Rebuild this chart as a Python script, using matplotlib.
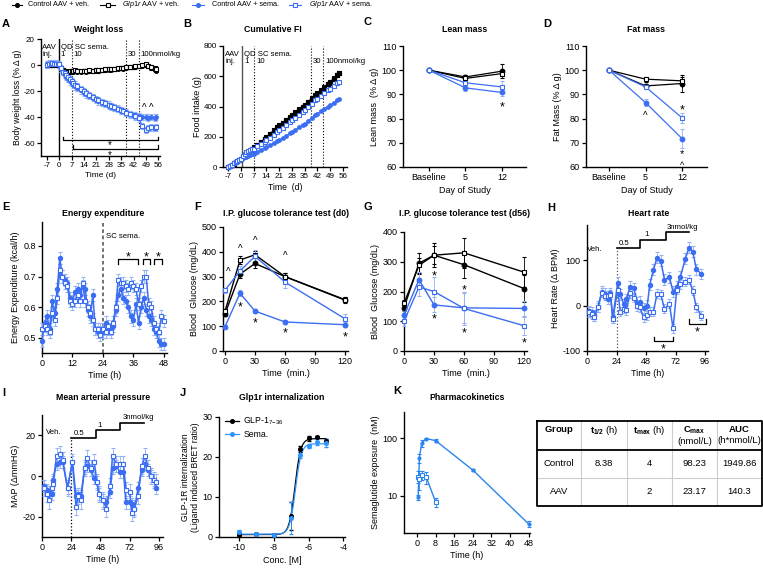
import numpy as np
import matplotlib
matplotlib.use("Agg")
import matplotlib.pyplot as plt
from matplotlib.lines import Line2D
from matplotlib.ticker import NullLocator
from matplotlib.transforms import offset_copy

plt.rcParams['font.family'] = ['Liberation Sans', 'DejaVu Sans']
plt.rcParams['mathtext.fontset'] = 'custom'
plt.rcParams['mathtext.rm'] = 'Liberation Sans'
plt.rcParams['mathtext.it'] = 'Liberation Sans:italic'
plt.rcParams['mathtext.bf'] = 'Liberation Sans:bold'
plt.rcParams['font.size'] = 6.5
plt.rcParams['axes.linewidth'] = 1.0
plt.rcParams['axes.unicode_minus'] = False

W, H = 763, 569
BLUE = '#3b6ef2'
LBLUE = '#93b2f6'
JBLUE = '#2f95ff'
KBLUE = '#2a86ee'

# ---------------- data ----------------
# A: body weight (% change)
days_a = [-7, -6, -5, -4, -3, -2, -1, 0, 1, 2, 3, 4, 5, 6, 7, 8, 9, 10, 12, 14, 15, 17, 19, 21, 22, 24,
          26, 28, 29, 31, 33, 35, 36, 38, 40, 42, 43, 45, 47, 49, 50, 52, 54, 55]
ctrl_veh_a = [0.5, 0.8, 0.3, 0.6, 0.2, 0.4, 0.5, 0.0, -2.5, -4.0, -5.5, -6.5, -6.0, -5.5, -5.0, -5.2, -4.8,
              -5.0, -5.3, -4.8, -5.0, -4.6, -4.9, -4.4, -4.6, -4.0, -3.8, -3.5, -3.7, -3.2, -2.8, -2.6, -2.9,
              -2.2, -1.8, -1.5, -1.2, -1.0, -0.5, 0.0, -1.0, -2.5, -3.5, -4.5]
glp_veh_a = [0.3, 0.6, 0.2, 0.5, 0.4, 0.3, 0.6, 0.2, -2.0, -3.5, -4.5, -5.0, -5.2, -4.8, -4.4, -4.6, -4.2,
             -4.5, -4.7, -4.3, -4.4, -4.0, -4.3, -3.8, -4.0, -3.6, -3.3, -3.0, -3.2, -2.7, -2.4, -2.2, -2.5,
             -1.8, -1.5, -1.2, -0.9, -0.7, -0.3, 0.5, -0.5, -1.5, -2.5, -3.0]
ctrl_sema_a = [0.5, 0.8, 0.6, 1.0, 0.7, 0.9, 0.6, 0.0, -3.0, -5.5, -7.5, -9.0, -10.5, -12.5, -14.0, -15.5,
               -16.5, -17.5, -19.5, -21.5, -22.5, -24.0, -25.5, -27.0, -28.0, -29.0, -30.0, -31.5, -32.0,
               -33.0, -34.0, -35.0, -35.5, -36.5, -37.5, -38.5, -39.0, -39.5, -40.0, -40.0, -40.5, -40.0,
               -40.5, -40.0]
glp_sema_a = [0.3, 1.0, 0.8, 1.2, 0.9, 1.1, 0.8, 0.5, -2.5, -5.0, -6.5, -8.0, -9.5, -11.0, -12.5, -14.0,
              -15.0, -16.5, -18.5, -20.0, -21.5, -23.0, -24.5, -26.0, -27.0, -28.5, -29.5, -30.5, -31.5,
              -32.5, -33.5, -34.5, -35.5, -37.0, -38.0, -38.5, -39.5, -41.0, -47.0, -50.0, -48.5, -48.0,
              -48.5, -48.0]
sem_a = [1.2, 1.2, 2.5, 2.5]

# B: cumulative food intake (g)
days_b = [-7, -6, -5, -4, -3, -2, -1, 0, 1, 2, 3, 4, 5, 6, 7, 9, 11, 13, 14, 16, 18, 20, 21, 23, 25, 27,
          28, 30, 32, 34, 35, 37, 39, 41, 42, 44, 46, 48, 49, 51, 53, 54]
ctrl_veh_b = [0, 8, 16, 24, 32, 40, 48, 56, 67, 78, 88, 98, 108, 118, 130, 148, 167, 186, 198, 220, 242,
              264, 275, 293, 312, 331, 341, 361, 381, 400, 410, 432, 454, 476, 487, 508, 529, 551, 562,
              586, 611, 624]
glp_veh_b = [0, 8, 15, 23, 31, 39, 46, 54, 65, 75, 85, 95, 105, 115, 126, 145, 164, 183, 195, 216, 238,
             260, 271, 289, 308, 327, 337, 357, 377, 396, 406, 428, 450, 472, 483, 504, 525, 547, 558,
             582, 606, 619]
ctrl_sema_b = [0, 8, 16, 24, 32, 40, 46, 52, 58, 63, 69, 74, 79, 84, 88, 101, 113, 126, 132, 144, 157,
               170, 176, 192, 208, 223, 231, 246, 262, 278, 286, 305, 324, 343, 353, 369, 385, 400, 408,
               426, 443, 452]
glp_sema_b = [0, 8, 16, 24, 32, 40, 48, 56, 72, 86, 98, 105, 110, 116, 121, 136, 152, 168, 176, 195, 214,
              233, 242, 261, 280, 299, 308, 327, 346, 365, 374, 396, 418, 441, 452, 471, 490, 509, 518,
              536, 553, 562]

# C / D: lean and fat mass (% of baseline)
study_days = ['Baseline', '5', '12']
ctrl_veh_c = [100, 97.2, 99.6]
glp_veh_c = [100, 96.6, 98.6]
ctrl_sema_c = [100, 92.7, 90.8]
glp_sema_c = [100, 94.8, 93.1]
err_c = [[0, 1.0, 3.0], [0, 1.2, 1.0], [0, 1.5, 1.5], [0, 1.2, 2.5]]
ctrl_veh_d = [100, 93.5, 94.5]
glp_veh_d = [100, 96.3, 95.6]
ctrl_sema_d = [100, 86.6, 71.7]
glp_sema_d = [100, 93.1, 80.3]
err_d = [[0, 1.0, 3.5], [0, 1.0, 1.5], [0, 1.5, 4.0], [0, 1.0, 2.0]]

# E: energy expenditure (kcal/h)
hours_e = list(range(0, 49))
ctrl_sema_e = [0.49, 0.55, 0.57, 0.53, 0.62, 0.58, 0.66, 0.76, 0.70, 0.69, 0.68, 0.63, 0.62, 0.65, 0.66,
               0.64, 0.67, 0.66, 0.59, 0.57, 0.64, 0.53, 0.52, 0.53, 0.52, 0.55, 0.53, 0.53, 0.54, 0.59,
               0.64, 0.66, 0.63, 0.62, 0.60, 0.57, 0.56, 0.61, 0.55, 0.60, 0.63, 0.59, 0.57, 0.56, 0.53,
               0.52, 0.49, 0.48, 0.48]
glp_sema_e = [0.53, 0.54, 0.53, 0.52, 0.58, 0.56, 0.63, 0.72, 0.70, 0.68, 0.67, 0.62, 0.61, 0.62, 0.64,
              0.62, 0.68, 0.62, 0.60, 0.58, 0.56, 0.53, 0.53, 0.51, 0.53, 0.52, 0.54, 0.52, 0.55, 0.60,
              0.69, 0.68, 0.68, 0.67, 0.66, 0.68, 0.67, 0.66, 0.61, 0.67, 0.70, 0.70, 0.61, 0.60, 0.55,
              0.53, 0.52, 0.57, 0.555]
sem_e = [0.02, 0.02]

# F / G: IPGTT (mg/dL)
gtt_min = [0, 15, 30, 60, 120]
ctrl_veh_f = [150, 310, 353, 300, 205]
glp_veh_f = [160, 367, 388, 300, 207]
ctrl_sema_f = [98, 233, 161, 117, 106]
glp_sema_f = [245, 323, 382, 278, 130]
err_f = [[10, 15, 20, 15, 12], [10, 15, 15, 15, 10], [5, 12, 8, 10, 10], [10, 20, 25, 25, 18]]
ctrl_veh_g = [145, 295, 322, 290, 210]
glp_veh_g = [160, 288, 322, 330, 265]
ctrl_sema_g = [120, 240, 155, 145, 143]
glp_sema_g = [100, 215, 200, 143, 85]
err_g = [[10, 35, 40, 45, 45], [10, 25, 30, 50, 50], [15, 25, 25, 50, 25], [15, 30, 50, 55, 30]]

# H: heart rate (delta BPM)
hours_h = [2, 4, 6, 9, 12, 15, 17, 19, 21, 25, 27, 30, 32, 35, 38, 41, 43, 46, 49, 51, 54, 57, 60, 63, 67,
           70, 73, 76, 80, 83, 86, 89, 93]
ctrl_sema_h = [-12, -15, -21, -2, 31, 26, 15, 27, -26, 51, 25, 3, 14, 42, 38, 7, 9, -6, 0, 46, 79, 106, 99,
               57, 63, 31, 42, 64, 104, 128, 119, 80, 70]
glp_sema_h = [-13, -19, -24, -4, 29, 22, 22, 24, -29, 35, -13, -7, -10, 27, 18, -1, -4, -26, -21, -13, -13,
              26, 25, -7, 4, -50, 35, 47, 53, 57, 33, -4, -22]
sem_h = [12, 10]

# I: mean arterial pressure (delta mmHg)
hours_i = [2, 4, 6, 8, 9, 12, 15, 17, 21, 25, 28, 30, 32, 35, 37, 40, 43, 45, 47, 50, 53, 56, 58, 61, 64,
           67, 69, 72, 74, 76, 79, 82, 85, 87, 90, 92, 94]
ctrl_sema_i = [-5, -7, -8, -9, -2, 6, 7, 7, -6, 7, -10, -9, -10, 4, 5, 3, -1, -3, -9, -12, -13, -8, 4, 5, 2,
               2, -13, -13, -14, -16, -6, 3, 6, 3, 0, -2, -6]
glp_sema_i = [-6, -9, -12, -6, -4, 10, 11, 8, -6, 7, -15, -10, -12, 4, 9, 4, 7, -3, -9, -12, -16, -5, 10, 6,
              6, 6, -7, -8, -18, -16, -10, 5, 10, 4, 0, -2, -3]
sem_i = [3, 4]

# J: internalization
log_conc = [-10, -9, -8, -7, -6.5, -6, -5.5, -5]
glp1_j = [0.5, 0.7, 0.6, 5.3, 22.0, 24.7, 25.0, 24.0]
glp1_err = [0.3, 0.2, 0.2, 3.5, 0.8, 0.6, 0.3, 0.5]
sema_j = [1.2, 0.8, 0.5, 4.8, 20.6, 22.7, 23.7, 23.5]
sema_err = [0.6, 0.3, 0.2, 4.0, 0.8, 0.5, 0.8, 1.0]
glp1_fit = [0.6, 24.6, -6.78, 2.6]   # bottom, top, logEC50, hill
sema_fit = [0.7, 23.3, -6.75, 2.6]

# K: pharmacokinetics (nM)
pk_t_ctrl = [0.5, 1, 2, 4, 8, 24, 48]
pk_c_ctrl = [9.5, 45, 82, 98, 90, 28, 3.3]
pk_e_ctrl = [1, 8, 12, 3, 6, 1, 0.4]
pk_t_aav = [0.25, 1, 2, 4, 8]
pk_c_aav = [21.5, 19.5, 23.2, 21, 7.9]
pk_e_aav = [5, 7, 4, 5, 1.5]
table_cols = [r'$\mathbf{Group}$', r'$\mathbf{t_{1/2}}$ (h)', r'$\mathbf{t_{max}}$ (h)',
              r'$\mathbf{C_{max}}$' + '\n(nmol/L)', r'$\mathbf{AUC}$' + '\n(h*nmol/L)']
table_rows = [['Control', '8.38', '4', '98.23', '1949.86'],
              ['AAV', '', '2', '23.17', '140.3']]

# ---------------- helpers ----------------
fig = plt.figure(figsize=(W / 100, H / 100), dpi=100)
fig.patch.set_facecolor('white')


def make_ax(x0, y0, x1, y1, tick=6.5):
    ax = fig.add_axes([x0 / W, 1 - y1 / H, (x1 - x0) / W, (y1 - y0) / H])
    ax.spines[['top', 'right']].set_visible(False)
    ax.tick_params(direction='out', length=3, width=0.9, pad=1.5, labelsize=tick)
    return ax


def ftext(x, y, s, **kw):
    fig.text(x / W, 1 - y / H, s, **kw)


def draw(ax, x, y, err, color, filled, marker='o', ms=3.0, lw=0.9, ecolor=None, z=3):
    ax.errorbar(x, y, yerr=err, color=color, ecolor=ecolor or color, marker=marker, ms=ms,
                mfc=color if filled else 'white', mec=color, mew=0.8, lw=lw,
                elinewidth=0.6, capsize=1.2, capthick=0.6, zorder=z, clip_on=False)


def star(ax, x, y, s='*', size=9):
    # place the visible glyph centre at (x, y)
    shift = 0.56 if s == '*' else 0.5
    tr = offset_copy(ax.transData, fig=fig, y=-shift * size, units='points')
    ax.text(x, y, s, ha='center', va='baseline', fontsize=size, transform=tr, clip_on=False)


def bracket(ax, x0, x1, y, ytip):
    ax.plot([x0, x0, x1, x1], [ytip, y, y, ytip], color='k', lw=0.9, clip_on=False)


four = [('k', True, 'o'), ('k', False, 's'), (BLUE, True, 'o'), (BLUE, False, 's')]

# ---------------- legend ----------------
leg = [(12, 22, 'k', 'o', True, 28, 'Control AAV + veh.'),
       (100, 115, 'k', 's', False, 122, r'$\it{Glp1r}$ AAV + veh.'),
       (192, 204, BLUE, 'o', True, 212, 'Control AAV + sema.'),
       (289, 301, BLUE, 's', False, 309, r'$\it{Glp1r}$ AAV + sema.')]
for x0, x1, c, m, f, xt, lab in leg:
    yy = 1 - 5 / H
    fig.add_artist(Line2D([x0 / W, x1 / W], [yy, yy], color=c, lw=0.8))
    fig.add_artist(Line2D([(x0 + x1) / 2 / W], [yy], marker=m, ms=2.8, mfc=c if f else 'white',
                          mec=c, mew=0.8, ls='none'))
    ftext(xt, 5, lab, fontsize=5.2, ha='left', va='center')

# panel letters and titles
for letter, x, y in [('A', 2, 24), ('B', 183, 24), ('C', 363, 22), ('D', 543, 24), ('E', 2, 207),
                     ('F', 194, 207), ('G', 363, 207), ('H', 547, 208), ('I', 2, 393), ('J', 180, 393),
                     ('K', 393, 391)]:
    ftext(x, y, letter, fontsize=8, fontweight='bold', ha='left', va='center')
for title, x, y in [('Weight loss', 99, 29), ('Cumulative FI', 273, 29), ('Lean mass', 465, 29),
                    ('Fat mass', 646, 29), ('Energy expenditure', 103, 213),
                    ('I.P. glucose tolerance test (d0)', 286, 214),
                    ('I.P. glucose tolerance test (d56)', 465, 214), ('Heart rate', 649, 214),
                    ('Mean arterial pressure', 103, 398), ('Glp1r internalization', 282, 398),
                    ('Pharmacokinetics', 467, 398)]:
    ftext(x, y, title, fontsize=6.3, fontweight='bold', ha='center', va='center')

# ---------------- A ----------------
ax = make_ax(41, 39, 160, 156, tick=5.8)
for (c, f, m), y, e in zip(four, [ctrl_veh_a, glp_veh_a, ctrl_sema_a, glp_sema_a], sem_a):
    draw(ax, days_a, y, e, c, f, m, ms=2.7, lw=0.8, ecolor=LBLUE if c == BLUE else None)
ax.axvline(0, color='k', lw=1.0)
for d in [7, 38, 45]:
    ax.axvline(d, color='k', lw=0.8, ls=':')
ax.set_xlim(-10.4, 57)
ax.set_ylim(-70, 20)
ax.set_xticks(range(-7, 57, 7))
ax.set_yticks([20, 0, -20, -40, -60])
ax.set_xlabel('Time (d)', fontsize=6, labelpad=2)
ax.set_ylabel('Body weight loss (% Δ g)', fontsize=6.2, labelpad=1)
for x, y, s in [(-9.6, 13.6, 'AAV'), (-9.6, 7.7, 'inj.'), (0.8, 13.6, 'QD SC sema.'), (0.8, 7.7, '1'),
                (7.8, 7.7, '10'), (38.7, 7.7, '30'), (45.6, 7.7, '100nmol/kg')]:
    ax.text(x, y, s, fontsize=5.6, ha='left', va='center')
bracket(ax, 2, 56, -57.7, -55)
bracket(ax, 7.8, 56, -64.5, -61.8)
star(ax, 28.7, -60.0, size=7)
star(ax, 28.7, -67.5, size=7)
star(ax, 48, -32, '^', 7)
star(ax, 52, -32, '^', 7)

# ---------------- B ----------------
ax = make_ax(223, 46, 347, 167, tick=5.8)
draw(ax, days_b, glp_veh_b, 0, 'k', False, 's', ms=2.8, lw=0.8)
draw(ax, days_b, ctrl_veh_b, 0, 'k', True, 's', ms=2.8, lw=0.8)
draw(ax, days_b, ctrl_sema_b, 6, BLUE, True, 'o', ms=2.6, lw=0.8, ecolor=LBLUE)
draw(ax, days_b, glp_sema_b, 4, BLUE, False, 's', ms=2.9, lw=0.8, ecolor=LBLUE)
ax.axvline(0.4, color='#555555', lw=1.0)
for d in [7.3, 38.6, 45.4]:
    ax.axvline(d, color='k', lw=0.8, ls=':')
ax.set_xlim(-9.9, 58.4)
ax.set_ylim(0, 800)
ax.set_xticks(range(-7, 57, 7))
ax.set_yticks(range(0, 801, 200))
ax.set_xlabel('Time  (d)', fontsize=6.2, labelpad=2)
ax.set_ylabel('Food intake (g)', fontsize=6.5, labelpad=1)
for x, y, s in [(-8.6, 745, 'AAV'), (-8.6, 700, 'inj.'), (1.6, 745, 'QD SC sema.'), (1.6, 700, '1'),
                (8.6, 700, '10'), (39.5, 700, '30'), (46.3, 700, '100nmol/kg')]:
    ax.text(x, y, s, fontsize=5.6, ha='left', va='center')

# ---------------- C ----------------
ax = make_ax(403, 46, 526, 167)
xc = [0, 1, 2]
for (c, f, m), y, e in zip(four, [ctrl_veh_c, glp_veh_c, ctrl_sema_c, glp_sema_c], err_c):
    draw(ax, xc, y, e, c, f, m, ms=3.4, lw=0.9, ecolor=LBLUE if c == BLUE else None)
ax.set_xlim(-0.71, 2.66)
ax.set_ylim(60, 110)
ax.set_xticks(xc)
ax.set_xticklabels(study_days)
ax.set_yticks(range(60, 111, 10))
ax.set_xlabel('Day of Study', labelpad=3)
ax.set_ylabel('Lean mass  (% Δ g)', labelpad=2)
star(ax, 2, 86.3)

# ---------------- D ----------------
ax = make_ax(586, 46, 707, 167)
for (c, f, m), y, e in zip(four, [ctrl_veh_d, glp_veh_d, ctrl_sema_d, glp_sema_d], err_d):
    draw(ax, xc, y, e, c, f, m, ms=3.4, lw=0.9, ecolor=LBLUE if c == BLUE else None)
ax.set_xlim(-0.63, 2.68)
ax.set_ylim(60, 110)
ax.set_xticks(xc)
ax.set_xticklabels(study_days)
ax.set_yticks(range(60, 111, 10))
ax.set_xlabel('Day of Study', labelpad=3)
ax.set_ylabel('Fat Mass (% Δ g)', labelpad=2)
star(ax, 1, 81.8, '^', 7)
star(ax, 2, 85)
star(ax, 2, 66.8, size=8)
star(ax, 2, 61.6, '^', 6.5)

# ---------------- E ----------------
ax = make_ax(42, 222, 167, 353)
draw(ax, hours_e, ctrl_sema_e, sem_e[0], BLUE, True, 'o', ms=3.1, lw=1.1, ecolor=LBLUE)
draw(ax, hours_e, glp_sema_e, sem_e[1], BLUE, False, 's', ms=3.1, lw=1.1, ecolor=LBLUE)
ax.axvline(24, color='#666666', lw=1.3, ls=(0, (2, 1.5)))
ax.text(25.2, 0.832, 'SC sema.', fontsize=5.6, ha='left', va='center')
ax.set_xlim(0, 49.2)
ax.set_ylim(0.451, 0.878)
ax.set_xticks([0, 12, 24, 36, 48])
ax.set_yticks([0.5, 0.6, 0.7, 0.8])
ax.set_xlabel('Time (h)', labelpad=2)
ax.set_ylabel('Energy Expenditure (kcal/h)', labelpad=2)
bracket(ax, 30.0, 37.9, 0.757, 0.742)
bracket(ax, 39.6, 42.5, 0.757, 0.742)
bracket(ax, 44.2, 47.4, 0.757, 0.742)
for x in [34.0, 41.0, 45.8]:
    star(ax, x, 0.774)

# ---------------- F ----------------
ax = make_ax(223, 227, 348, 351)
for (c, f, m), y, e in zip(four, [ctrl_veh_f, glp_veh_f, ctrl_sema_f, glp_sema_f], err_f):
    draw(ax, gtt_min, y, e, c, f, m, ms=3.4, lw=1.0, ecolor=LBLUE if c == BLUE else None)
ax.set_xlim(-2, 123)
ax.set_ylim(0, 500)
ax.set_xticks([0, 30, 60, 90, 120])
ax.set_yticks(range(0, 501, 100))
ax.set_xlabel('Time  (min.)', labelpad=2)
ax.set_ylabel('Blood  Glucose (mg/dL)', labelpad=2)
for x, y in [(3, 325), (15, 419), (30, 453), (60, 390)]:
    star(ax, x, y, '^', 7)
for x, y in [(15, 190), (30, 128), (60, 86), (120, 70)]:
    star(ax, x, y)

# ---------------- G ----------------
ax = make_ax(404, 232, 527, 351)
for (c, f, m), y, e in zip(four, [ctrl_veh_g, glp_veh_g, ctrl_sema_g, glp_sema_g], err_g):
    draw(ax, gtt_min, y, e, c, f, m, ms=3.4, lw=1.0, ecolor=LBLUE if c == BLUE else None)
ax.set_xlim(0, 123)
ax.set_ylim(0, 400)
ax.set_xticks([0, 30, 60, 90, 120])
ax.set_yticks(range(0, 401, 100))
ax.set_xlabel('Time  (min.)', labelpad=2)
ax.set_ylabel('Blood  Glucose (mg/dL)', labelpad=2)
for x, y in [(30, 265), (30, 120), (60, 218), (60, 73), (120, 39)]:
    star(ax, x, y)

# ---------------- H ----------------
ax = make_ax(587, 225, 708, 351)
draw(ax, hours_h, ctrl_sema_h, sem_h[0], BLUE, True, 'o', ms=3.1, lw=1.1, ecolor=LBLUE)
draw(ax, hours_h, glp_sema_h, sem_h[1], BLUE, False, 's', ms=3.1, lw=1.1, ecolor=LBLUE)
ax.plot([24, 24], [-100, 128], color='#555555', lw=0.9, ls=':')
ax.plot([24, 43, 43, 64, 64, 83], [128, 128, 145, 145, 162, 162], color='k', lw=1.2, clip_on=False)
ax.text(6, 125, 'Veh.', fontsize=5.6, ha='center', va='center')
ax.text(26, 137, '0.5', fontsize=5.6, ha='left', va='center')
ax.text(47, 156, '1', fontsize=5.6, ha='left', va='center')
ax.text(64.5, 173, '3nmol/kg', fontsize=5.6, ha='left', va='center')
bracket(ax, 54.5, 70, -79, -70)
bracket(ax, 82.7, 96.5, -41, -30)
star(ax, 62.2, -88)
star(ax, 89.6, -51)
ax.set_xlim(0, 98.4)
ax.set_ylim(-100, 178)
ax.set_xticks([0, 24, 48, 72, 96])
ax.set_yticks([-100, 0, 100])
ax.set_xlabel('Time (h)', labelpad=2)
ax.set_ylabel('Heart Rate (Δ BPM)', labelpad=2)

# ---------------- I ----------------
ax = make_ax(42, 415, 163, 537)
draw(ax, hours_i, ctrl_sema_i, sem_i[0], BLUE, True, 'o', ms=3.1, lw=1.1, ecolor=LBLUE)
draw(ax, hours_i, glp_sema_i, sem_i[1], BLUE, False, 's', ms=3.1, lw=1.1, ecolor=LBLUE)
ax.plot([24, 24], [-30, 19], color='k', lw=0.9, ls=':')
ax.plot([24, 44, 44, 64, 64, 83.7], [18.9, 18.9, 22.7, 22.7, 26, 26], color='k', lw=1.2, clip_on=False)
ax.text(9.5, 21.6, 'Veh.', fontsize=5.6, ha='center', va='center')
ax.text(26, 21, '0.5', fontsize=5.6, ha='left', va='center')
ax.text(45.5, 25, '1', fontsize=5.6, ha='left', va='center')
ax.text(66, 29, '3nmol/kg', fontsize=5.6, ha='left', va='center')
ax.set_xlim(0, 99.5)
ax.set_ylim(-30, 30)
ax.set_xticks([0, 24, 48, 72, 96])
ax.set_yticks([-20, 0, 20])
ax.set_xlabel('Time (h)', labelpad=2)
ax.set_ylabel('MAP (ΔmmHG)', labelpad=2)

# ---------------- J ----------------
ax = make_ax(219, 417, 345, 537)
xs = np.linspace(-10, -5, 300)
for fit, col in [(glp1_fit, 'k'), (sema_fit, JBLUE)]:
    b, t, ec, h = fit
    ax.plot(xs, b + (t - b) / (1 + 10 ** ((ec - xs) * h)), color=col, lw=0.9, zorder=2)
ax.errorbar(log_conc, glp1_j, yerr=glp1_err, fmt='o', color='k', ms=2.6, elinewidth=0.6, capsize=1.2,
            zorder=3)
ax.errorbar(log_conc, sema_j, yerr=sema_err, fmt='o', color=JBLUE, ms=2.6, elinewidth=0.6, capsize=1.2,
            zorder=3)
handles = [Line2D([], [], color='k', marker='o', ms=2.6, lw=0.9),
           Line2D([], [], color=JBLUE, marker='o', ms=2.6, lw=0.9)]
ax.legend(handles, [r'GLP-1$_{7\mathrm{-}36}$', 'Sema.'], loc='upper left', bbox_to_anchor=(0.02, 1.04),
          frameon=False, fontsize=6.3, handlelength=1.6, handletextpad=0.5, labelspacing=0.3,
          borderaxespad=0)
ax.set_xlim(-11.15, -3.9)
ax.set_ylim(0, 30)
ax.set_xticks([-10, -8, -6, -4])
ax.set_yticks([0, 10, 20, 30])
ax.set_xlabel('Conc. [M]', labelpad=3)
ax.set_ylabel('GLP-1R internalization\n(Ligand induced BRET ratio)', labelpad=2, fontsize=6.2)

# ---------------- K ----------------
ax = make_ax(404, 412, 530, 533)
draw(ax, pk_t_ctrl, pk_c_ctrl, pk_e_ctrl, KBLUE, True, 'o', ms=2.2, lw=1.0)
draw(ax, pk_t_aav, pk_c_aav, pk_e_aav, KBLUE, False, 's', ms=3.2, lw=1.0)
ax.set_yscale('log')
ax.set_xlim(-5.6, 48.6)
ax.set_ylim(2.3, 281)
ax.set_yticks([10, 100])
ax.set_yticklabels(['10', '100'])
ax.yaxis.set_minor_locator(NullLocator())
ax.set_xticks(range(0, 49, 8))
ax.set_xlabel('Time (h)', labelpad=2)
ax.set_ylabel('Semaglutide exposure  (nM)', labelpad=2)

# table
tab = fig.add_axes([537 / W, 1 - 506 / H, (762 - 537) / W, (506 - 421) / H])
tab.set_xlim(537, 762)
tab.set_ylim(506, 421)
tab.axis('off')
col_edges = [537, 581, 627, 672, 717, 762]
for x in col_edges[1:-1]:
    tab.plot([x, x], [421, 506], color='#cccccc', lw=0.8)
tab.plot([537, 762], [478, 478], color='#cccccc', lw=0.8)
tab.plot([537, 762], [450, 450], color='k', lw=1.3)
tab.plot([537, 762, 762, 537, 537], [421, 421, 506, 506, 421], color='k', lw=1.3, clip_on=False)
for i, lab in enumerate(table_cols):
    cx = (col_edges[i] + col_edges[i + 1]) / 2
    tab.text(cx, 424, lab, ha='center', va='top', fontsize=6.8, linespacing=1.25)
for r, (row, cy) in enumerate(zip(table_rows, [463, 491])):
    for i, val in enumerate(row):
        cx = (col_edges[i] + col_edges[i + 1]) / 2
        tab.text(cx, cy, val, ha='center', va='center', fontsize=6.8)

fig.savefig('out.png', dpi=100, facecolor='white')
